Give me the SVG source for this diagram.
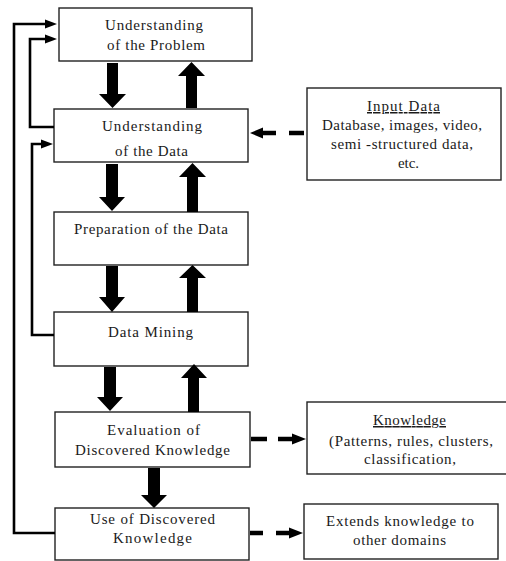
<svg xmlns="http://www.w3.org/2000/svg" width="506" height="561" viewBox="0 0 506 561">
<style>
.box{fill:#fff;stroke:#222;stroke-width:1.4}
.t{font-family:"Liberation Serif","Times New Roman",serif;font-size:15px;fill:#1a1a1a;text-anchor:middle}
.fb{fill:none;stroke:#000;stroke-width:2.6}
.dash{stroke:#000;stroke-width:4.5;fill:none}
.ah{fill:#000}
</style>
<g id="n1"><rect class="box" x="59" y="8" width="193" height="53"/><text class="t" x="154" y="30" textLength="98" lengthAdjust="spacing">Understanding</text><text class="t" x="156" y="50" textLength="98" lengthAdjust="spacing">of the Problem</text></g>
<g id="n2"><rect class="box" x="54" y="109" width="194" height="53"/><text class="t" x="152" y="131" textLength="100" lengthAdjust="spacing">Understanding</text><text class="t" x="151.5" y="156" textLength="73" lengthAdjust="spacing">of the Data</text></g>
<g id="n3"><rect class="box" x="54" y="212" width="194" height="53"/><text class="t" x="151" y="234" textLength="154" lengthAdjust="spacing">Preparation of the Data</text></g>
<g id="n4"><rect class="box" x="54" y="312" width="194" height="54"/><text class="t" x="150.5" y="337" textLength="85" lengthAdjust="spacing">Data Mining</text></g>
<g id="n5"><rect class="box" x="55" y="412" width="195" height="55"/><text class="t" x="153.5" y="435" textLength="93" lengthAdjust="spacing">Evaluation of</text><text class="t" x="152.5" y="455" textLength="155" lengthAdjust="spacing">Discovered Knowledge</text></g>
<g id="n6"><rect class="box" x="55" y="508" width="194" height="52"/><text class="t" x="152.5" y="524" textLength="125" lengthAdjust="spacing">Use of Discovered</text><text class="t" x="152.5" y="543" textLength="79" lengthAdjust="spacing">Knowledge</text></g>
<g id="n7"><rect class="box" x="307" y="88" width="194" height="92"/><text class="t" x="403.5" y="111" textLength="73" lengthAdjust="spacing" text-decoration="underline">Input Data</text><text class="t" x="402" y="130" textLength="160" lengthAdjust="spacing">Database, images, video,</text><text class="t" x="402" y="149" textLength="142" lengthAdjust="spacing">semi -structured data,</text><text class="t" x="408.5" y="168">etc.</text></g>
<g id="n8"><rect class="box" x="307" y="402" width="200" height="72"/><text class="t" x="409.5" y="425" textLength="73" lengthAdjust="spacing" text-decoration="underline">Knowledge</text><text class="t" x="411" y="446" textLength="164" lengthAdjust="spacing">(Patterns, rules, clusters,</text><text class="t" x="410" y="464" textLength="92" lengthAdjust="spacing">classification,</text></g>
<g id="n9"><rect class="box" x="304" y="504" width="194" height="55"/><text class="t" x="400" y="526" textLength="148" lengthAdjust="spacing">Extends knowledge to</text><text class="t" x="399.5" y="545" textLength="93" lengthAdjust="spacing">other domains</text></g>
<g id="connectors">
<polygon class="ah" points="107,63 118,63 118,94 126,94 112.5,108 99,94 107,94"/>
<polygon class="ah" points="106,164 118,164 118,197 125,197 112,211 99,197 106,197"/>
<polygon class="ah" points="106,266 118,266 118,297 125,297 112,312 99,297 106,297"/>
<polygon class="ah" points="104,367 116,367 116,397 123,397 110,411 97,397 104,397"/>
<polygon class="ah" points="148,468 160,468 160,495 167,495 154,508 141,495 148,495"/>
<polygon class="ah" points="186,108 197,108 197,76 205,76 191.5,62 178,76 186,76"/>
<polygon class="ah" points="187,212 198,212 198,177 206,177 192.5,163 179,177 187,177"/>
<polygon class="ah" points="187,312 198,312 198,278 206,278 192.5,265 179,278 187,278"/>
<polygon class="ah" points="188,412 199,412 199,378 207,378 194,364 181,378 188,378"/>
<polyline class="fb" points="55,533 14,533 14,24 46,24"/>
<polygon class="ah" points="45,19.5 57,24 45,28.5"/>
<polyline class="fb" points="54,127 30,127 30,39 46,39"/>
<polygon class="ah" points="45,34.5 57,39 45,43.5"/>
<polyline class="fb" points="54,335 32,335 32,144 42,144"/>
<polygon class="ah" points="41,139.5 53,144 41,148.5"/>
<line class="dash" x1="289" y1="133" x2="304" y2="133"/>
<line class="dash" x1="262" y1="133" x2="276" y2="133"/>
<polygon class="ah" points="263,127.5 250,133 263,138.5"/>
<line class="dash" x1="251" y1="439" x2="267" y2="439"/>
<line class="dash" x1="278" y1="439" x2="293" y2="439"/>
<polygon class="ah" points="292,433.5 306,439 292,444.5"/>
<line class="dash" x1="250" y1="533" x2="263" y2="533"/>
<line class="dash" x1="276" y1="533" x2="290" y2="533"/>
<polygon class="ah" points="289,527.5 303,533 289,538.5"/>
</g>
</svg>
